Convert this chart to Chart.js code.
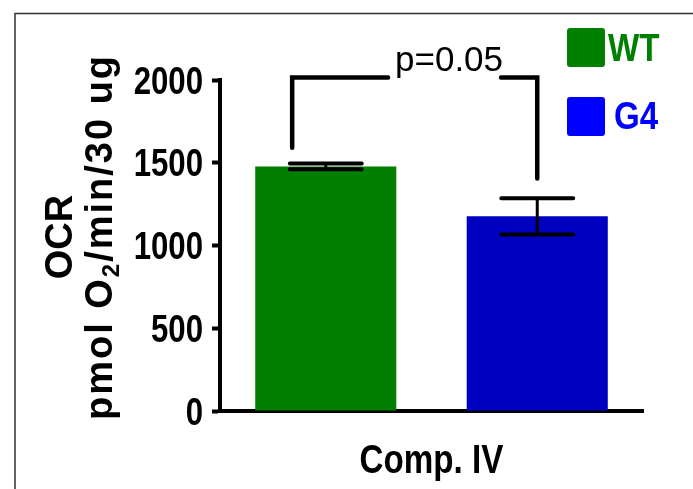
<!DOCTYPE html>
<html>
<head>
<meta charset="utf-8">
<script src="https://cdn.jsdelivr.net/npm/chart.js@4/dist/chart.umd.min.js"></script>
<style>
html,body{margin:0;padding:0;background:#fff;}
#wrap{width:693px;height:489px;position:relative;}
</style>
</head>
<body>
<div id="wrap"><canvas id="c" width="693" height="489"></canvas></div>
<script>
// ---- data ----
const categories = ['Comp. IV'];
const seriesNames = ['WT', 'G4'];
const wtValues = [1478];
const g4Values = [1176];
const wtErrors = [17];
const g4Errors = [110];
const yTicks = [0, 500, 1000, 1500, 2000];
const yTitleLines = ['OCR', 'pmol O', '2', '/min/30 ug'];
const pLabel = 'p=0.05';
const bracketValues = [2015, 1590, 1405]; // top, left end, right end

const SANS = "'Liberation Sans',Arial,sans-serif";

// draw condensed bold text (horizontal squeeze)
function condText(ctx, text, x, y, size, squeeze, align, color) {
  ctx.save();
  ctx.font = 'bold ' + size + 'px ' + SANS;
  ctx.fillStyle = color;
  ctx.textBaseline = 'alphabetic';
  const w = ctx.measureText(text).width * squeeze;
  let left = x;
  if (align === 'center') left = x - w / 2;
  else if (align === 'right') left = x - w;
  ctx.translate(left, y);
  ctx.scale(squeeze, 1);
  ctx.textAlign = 'left';
  ctx.fillText(text, 0, 0);
  ctx.restore();
}

const errorBars = {
  id: 'errorBars',
  afterDatasetsDraw(chart) {
    const ctx = chart.ctx, y = chart.scales.y;
    ctx.save();
    ctx.strokeStyle = '#000';
    chart.data.datasets.forEach((ds, i) => {
      const meta = chart.getDatasetMeta(i);
      meta.data.forEach((bar, j) => {
        const v = ds.data[j], e = ds.errors[j];
        const yt = y.getPixelForValue(v + e), yb = y.getPixelForValue(v - e);
        const half = bar.width * 0.255;
        ctx.lineWidth = 3;
        ctx.beginPath(); ctx.moveTo(bar.x, yt); ctx.lineTo(bar.x, yb); ctx.stroke();
        ctx.lineWidth = 4; ctx.lineCap = 'round';
        ctx.beginPath();
        ctx.moveTo(bar.x - half, yt); ctx.lineTo(bar.x + half, yt);
        ctx.moveTo(bar.x - half, yb); ctx.lineTo(bar.x + half, yb);
        ctx.stroke();
        ctx.lineCap = 'butt';
      });
    });
    ctx.restore();
  }
};

const bracket = {
  id: 'bracket',
  afterDatasetsDraw(chart) {
    const ctx = chart.ctx, y = chart.scales.y;
    const b0 = chart.getDatasetMeta(0).data[0], b1 = chart.getDatasetMeta(1).data[0];
    const lx = b0.x - 0.238 * b0.width, rx = b1.x;
    const ty = y.getPixelForValue(bracketValues[0]);
    const ly = y.getPixelForValue(bracketValues[1]);
    const ry = y.getPixelForValue(bracketValues[2]);
    const tc = lx + 0.64 * (rx - lx);
    ctx.save();
    ctx.strokeStyle = '#000'; ctx.lineWidth = 4.5; ctx.lineCap = 'round'; ctx.lineJoin = 'miter';
    ctx.beginPath();
    ctx.moveTo(lx, ly); ctx.lineTo(lx, ty); ctx.lineTo(tc - 61, ty);
    ctx.moveTo(tc + 52, ty); ctx.lineTo(rx, ty); ctx.lineTo(rx, ry);
    ctx.stroke();
    ctx.fillStyle = '#000';
    ctx.font = '35px ' + SANS;
    ctx.textAlign = 'center'; ctx.textBaseline = 'alphabetic';
    ctx.fillText(pLabel, tc, ty - 7);
    ctx.restore();
  }
};

const labelsPlugin = {
  id: 'labelsPlugin',
  afterDraw(chart) {
    const ctx = chart.ctx;
    const ys = chart.scales.y, xs = chart.scales.x;
    // y tick labels from the scale
    ys.ticks.forEach(t => {
      const py = ys.getPixelForValue(t.value);
      condText(ctx, String(t.value), ys.right - 17, py + 13.5, 38, 0.82, 'right', '#000');
    });
    // x category label
    categories.forEach((c, i) => {
      condText(ctx, c, xs.getPixelForValue(i), 473, 40, 0.83, 'center', '#000');
    });
  }
};

const legendAndFrame = {
  id: 'legendAndFrame',
  afterDraw(chart) {
    const ctx = chart.ctx;
    ctx.save();
    // frame
    ctx.strokeStyle = '#333'; ctx.lineWidth = 1.5;
    ctx.strokeRect(15, 13.5, 700, 500);
    // legend
    const cols = ['#008000', '#0000FF'];
    const bys = [28, 97];
    const tys = [61, 128.5];
    seriesNames.forEach((n, i) => {
      ctx.fillStyle = cols[i];
      ctx.beginPath();
      if (ctx.roundRect) ctx.roundRect(567, bys[i], 38, 39, 3); else ctx.rect(567, bys[i], 38, 39);
      ctx.fill();
      condText(ctx, n, i === 0 ? 608 : 614, tys[i], 39, 0.85, 'left', cols[i]);
    });
    // y title
    const a = chart.chartArea;
    const cy = (a.top + a.bottom) / 2 - 8.5;
    ctx.fillStyle = '#000';
    ctx.save();
    ctx.translate(72, cy);
    ctx.rotate(-Math.PI / 2);
    ctx.font = 'bold 38px ' + SANS;
    ctx.textAlign = 'center';
    ctx.fillText(yTitleLines[0], 0, 0);
    ctx.restore();
    ctx.save();
    ctx.translate(112, cy);
    ctx.rotate(-Math.PI / 2);
    ctx.font = 'bold 38px ' + SANS;
    try { ctx.letterSpacing = '2px'; } catch (e) {}
    const w1 = ctx.measureText(yTitleLines[1]).width;
    const w3 = ctx.measureText(yTitleLines[3]).width;
    ctx.font = 'bold 24px ' + SANS;
    const w2 = ctx.measureText(yTitleLines[2]).width;
    let x = -(w1 + w2 + w3) / 2;
    ctx.textAlign = 'left';
    ctx.font = 'bold 38px ' + SANS;
    ctx.fillText(yTitleLines[1], x, 0); x += w1;
    ctx.font = 'bold 24px ' + SANS;
    ctx.fillText(yTitleLines[2], x, 7); x += w2;
    ctx.font = 'bold 38px ' + SANS;
    ctx.fillText(yTitleLines[3], x, 0);
    ctx.restore();
    ctx.restore();
  }
};

new Chart(document.getElementById('c'), {
  type: 'bar',
  data: {
    labels: categories,
    datasets: [
      { label: seriesNames[0], data: wtValues, errors: wtErrors, backgroundColor: '#007F00' },
      { label: seriesNames[1], data: g4Values, errors: g4Errors, backgroundColor: '#0000C0' }
    ]
  },
  options: {
    responsive: false,
    animation: false,
    devicePixelRatio: 1,
    layout: { padding: { top: 80, right: 50, left: 0, bottom: 0 } },
    datasets: { bar: { categoryPercentage: 1, barPercentage: 0.667 } },
    plugins: { legend: { display: false }, tooltip: { enabled: false } },
    scales: {
      x: {
        afterFit(s) { s.height = 78; },
        grid: { display: false, drawTicks: false },
        border: { display: true, color: '#000', width: 4 },
        ticks: { display: false }
      },
      y: {
        min: 0, max: 2000,
        afterFit(s) { s.width = 220; },
        afterBuildTicks(s) { s.ticks = yTicks.map(v => ({ value: v })); },
        grid: { drawOnChartArea: false, drawTicks: true, tickLength: 8, tickWidth: 4, tickColor: '#000' },
        border: { display: true, color: '#000', width: 4 },
        ticks: { display: false }
      }
    }
  },
  plugins: [errorBars, bracket, labelsPlugin, legendAndFrame]
});
</script>
</body>
</html>
